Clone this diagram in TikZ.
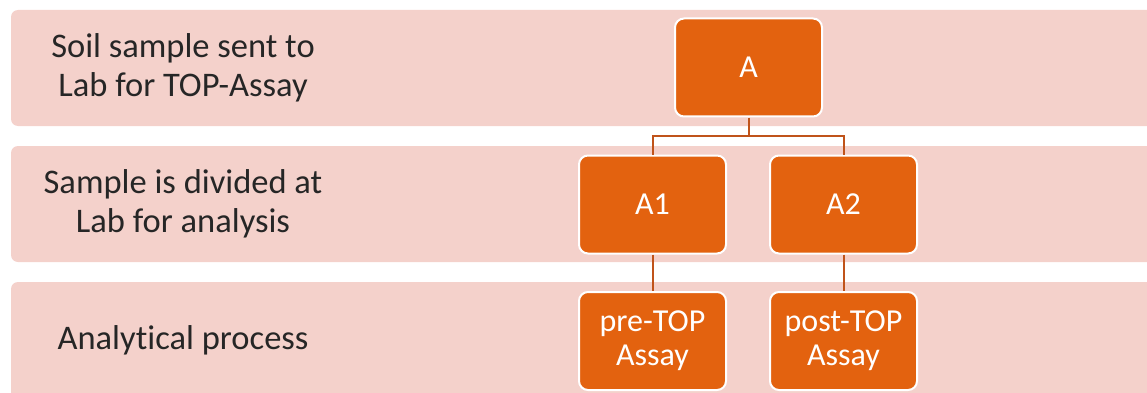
\documentclass[tikz,border=0pt]{standalone}
\usepackage{fontspec}
\setmainfont{Carlito}[Ligatures=NoCommon]
\definecolor{bandc}{HTML}{F4D1CB}
\definecolor{boxc}{HTML}{E3620F}
\definecolor{linec}{HTML}{C0531A}
\definecolor{txtc}{HTML}{262626}
\begin{document}
\begin{tikzpicture}[x=1pt,y=-1pt,
  band/.style={fill=bandc, draw=none, rounded corners=7pt},
  lbl/.style={text=txtc, align=center, font=\fontsize{34.5}{39}\selectfont},
  obox/.style={fill=boxc, draw=white, line width=2pt, rounded corners=9pt,
    minimum width=147pt, minimum height=98pt, inner sep=0pt, text=white,
    align=center, font=\fontsize{32}{34}\selectfont},
  conn/.style={draw=linec, line width=2pt}]
\useasboundingbox (0,0) rectangle (1147,393);
\begin{scope}
\clip (0,0) rectangle (1147,393);
\fill[band] (11,10) rectangle (1170,126);
\fill[band] (11,146) rectangle (1170,262);
\fill[band] (11,282) rectangle (1170,402);
\end{scope}
\node[lbl] (l1) at (183,68) {Soil sample sent to\\Lab for TOP-Assay};
\node[lbl] (l2) at (183,204) {Sample is divided at\\Lab for analysis};
\node[lbl] (l3) at (183,340) {Analytical process};
\node[obox] (A) at (748.5,67.5) {A};
\node[obox] (A1) at (652.5,204.5) {A1};
\node[obox] (A2) at (843.5,204.5) {A2};
\node[obox] (B1) at (652.5,341) {pre-TOP\\Assay};
\node[obox] (B2) at (843.5,341) {post-TOP\\Assay};
\coordinate (j) at (748.5,136);
\draw[conn] (A.south) -- (j);
\draw[conn] (j) -| (A1.north);
\draw[conn] (j) -| (A2.north);
\draw[conn] (A1.south) -- (B1.north);
\draw[conn] (A2.south) -- (B2.north);
\end{tikzpicture}
\end{document}
